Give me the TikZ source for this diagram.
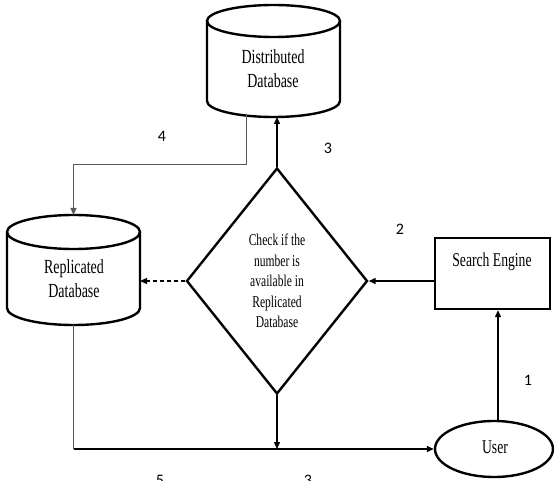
\documentclass[tikz,border=0pt]{standalone}
\usepackage{fontspec}
\usetikzlibrary{shapes.geometric,arrows.meta,calc}
\newfontfamily\boxfont[FakeStretch=0.7]{Liberation Serif}
\newfontfamily\stepfont{Carlito}

\tikzset{
  outline/.style={draw=black, line width=2.4pt},
  dbbody/.style={inner sep=0pt, outer sep=0pt},
  flow/.style={draw=black, line width=1.3pt, -{Triangle[length=7pt,width=6pt]}},
  link/.style={draw=black!65, line width=1pt, -{Triangle[length=7pt,width=6pt]}},
  elbow/.style={draw=black!65, line width=1pt},
  dashflow/.style={flow, dash pattern=on 4pt off 3pt},
  dbtext/.style={font=\boxfont\fontsize{20}{24}\selectfont, align=center, inner sep=0pt},
  decisiontext/.style={font=\boxfont\fontsize{16.5}{20.5}\selectfont, align=center, inner sep=0pt},
  plaintext/.style={font=\boxfont\fontsize{19.5}{23}\selectfont, inner sep=0pt},
  steplabel/.style={font=\stepfont\fontsize{16}{19}\selectfont, inner sep=0pt},
}

% cylinder outline around a body node: #1 node, #2 x radius, #3 y radius
\newcommand\dbdraw[3]{%
  \draw[outline] ([yshift=-#3pt]#1.north) ellipse [x radius=#2pt, y radius=#3pt];
  \draw[outline] ([yshift=-#3pt]#1.north west) -- ([yshift=#3pt]#1.south west)
    arc [start angle=180, end angle=360, x radius=#2pt, y radius=#3pt]
    -- ([yshift=-#3pt]#1.north east);
}

\begin{document}
\begin{tikzpicture}[x=1pt,y=-1pt]
\clip (0,0) rectangle (554,481);

% databases
\node[dbbody, minimum width=133pt, minimum height=112pt] (ddb) at (273.5,61) {};
\dbdraw{ddb}{66.5}{16}
\node[dbtext] (ddbt) at (273,68.5) {Distributed\\Database};

\node[dbbody, minimum width=133pt, minimum height=110pt] (rdb) at (73.5,270) {};
\dbdraw{rdb}{66.5}{17}
\node[dbtext] (rdbt) at (74,278.5) {Replicated\\Database};

% decision
\node[outline, diamond, inner sep=0pt, minimum width=181pt, minimum height=226pt] (dia) at (277,281) {};
\node[decisiontext] (diat) at (277,281) {Check if the\\number is\\available in\\Replicated\\Database};

% search engine and user
\node[outline, rectangle, inner sep=0pt, minimum width=115pt, minimum height=71pt] (se) at (492.5,273.5) {};
\node[plaintext] (set) at (492,262) {Search Engine};

\node[outline, ellipse, inner sep=0pt, minimum width=118pt, minimum height=56pt] (user) at (494,449) {};
\node[plaintext] (usert) at (495,447) {User};

% connectors
\draw[flow] ([xshift=4pt]user.north) -- ([xshift=4pt]user.north |- se.south);
\draw[flow] (se.west |- dia.east) -- (dia.east);
\draw[flow] (dia.north) -- (dia.north |- ddb.south);
\draw[link] ([xshift=-27.5pt,yshift=2pt]ddb.south) -- ++(0,50) -| (rdb.north);
\draw[dashflow] (dia.west) -- (rdb.east |- dia.west);
\draw[elbow] (rdb.south) -- (rdb.south |- user.west);
\draw[flow] (rdb.south |- user.west) -- (user.west);
\draw[flow] (dia.south) -- (dia.south |- user.west);

% step numbers
\node[steplabel] (n1) at (528,380) {1};
\node[steplabel] (n2) at (400,229) {2};
\node[steplabel] (n3a) at (328,148) {3};
\node[steplabel] (n4) at (162,136) {4};
\node[steplabel] (n5) at (160,480) {5};
\node[steplabel] (n3b) at (308,480) {3};
\end{tikzpicture}
\end{document}
